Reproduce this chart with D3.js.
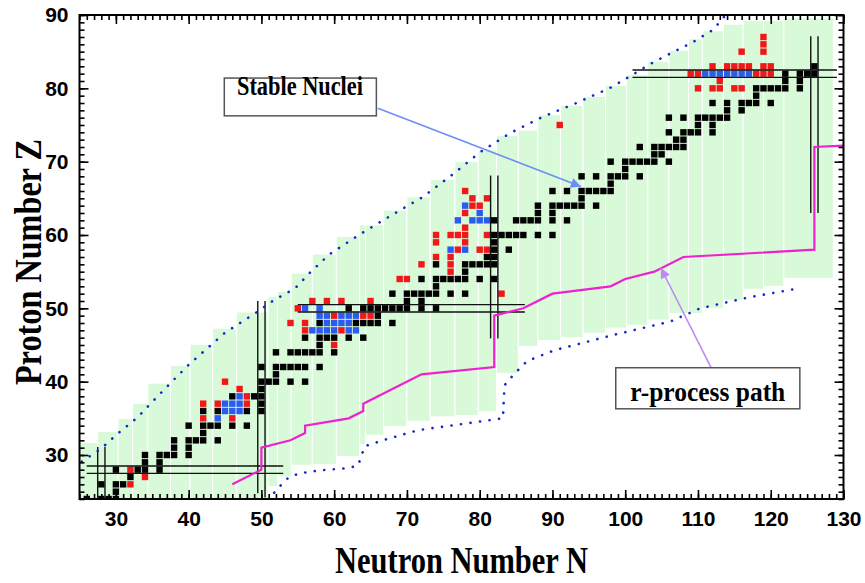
<!DOCTYPE html>
<html>
<head>
<meta charset="utf-8">
<script src="https://cdn.jsdelivr.net/npm/d3@7"></script>
<style>
  body { margin: 0; background: #fff; }
  .tick text { font-family: "Liberation Sans", Arial, sans-serif; font-weight: bold; font-size: 21px; fill: #000; }
  .tick line { stroke: #000; stroke-width: 1.6; }
  .serif { font-family: "Liberation Serif", "Times New Roman", serif; font-weight: bold; fill: #000; }
</style>
</head>
<body>
<script>
// ============ Data ============
var nTicks = [30, 40, 50, 60, 70, 80, 90, 100, 110, 120, 130];
var zTicks = [30, 40, 50, 60, 70, 80, 90];

// stable nuclei rows: [Z, [N, ...]]
var blackRows = [
  [24, [26, 28, 29, 30]], [25, [30]], [26, [28, 30, 31]], [27, [32]],
  [28, [30, 33, 34, 36]], [29, [34, 36]], [30, [34, 36, 37, 38, 40]], [31, [38, 40]],
  [32, [38, 40, 41, 42, 44]], [33, [42]], [34, [40, 42, 43, 44, 46, 48]],
  [36, [42, 44, 48, 50]], [37, [50]], [38, [46, 49, 50]], [39, [50]],
  [40, [50, 51, 52, 54, 56]], [41, [52]], [42, [50, 52, 53, 54, 55, 56, 58]],
  [44, [52, 54, 55, 56, 57, 58, 60]], [45, [58]], [46, [56, 58, 59, 60, 62, 64]],
  [48, [58, 63, 64, 65, 66, 68]], [49, [66]], [50, [62, 64, 65, 66, 67, 68, 69, 70, 72, 74]],
  [51, [70, 72]], [52, [68, 70, 71, 72, 73, 74, 76, 78]], [53, [74]],
  [54, [72, 74, 75, 76, 77, 78, 80, 82]], [55, [78]], [56, [74, 78, 79, 80, 81, 82]],
  [57, [81, 82]], [58, [82, 84]], [59, [82]], [60, [82, 83, 84, 85, 86, 88, 90]],
  [62, [82, 85, 86, 87, 88, 90, 92]], [63, [88, 90]], [64, [88, 90, 91, 92, 93, 94, 96]],
  [65, [94]], [66, [90, 92, 94, 95, 96, 97, 98]], [67, [98]], [68, [94, 96, 98, 99, 100, 102]],
  [69, [100]], [70, [98, 100, 101, 102, 103, 104, 106]], [71, [104, 105]],
  [72, [102, 104, 105, 106, 107, 108]], [73, [107, 108]], [74, [106, 108, 109, 110, 112]],
  [75, [110, 112]], [76, [106, 108, 110, 111, 112, 113, 114]], [77, [114, 116]],
  [78, [112, 114, 116, 117, 118, 120]], [79, [118]], [80, [118, 119, 120, 121, 122, 124]],
  [81, [122, 124]], [82, [122, 124, 125, 126]], [83, [126]]
];
var redRows = [
  [26, [32]], [27, [34]], [28, [32]], [35, [42, 46]], [37, [42, 44, 48]], [38, [48]],
  [39, [47]], [40, [45]], [45, [60]], [47, [56, 61]], [48, [54, 56]], [49, [60, 64, 65]],
  [50, [55]], [51, [57, 59, 61, 65]], [52, [83]], [54, [69, 70]], [55, [76]], [56, [72, 76]],
  [57, [74, 76]], [58, [77, 80, 81]], [59, [74, 78]], [60, [74, 76, 77, 78, 81]], [61, [78]],
  [63, [78]], [64, [79, 80]], [65, [79, 81]], [66, [78]], [75, [91]],
  [80, [110, 112, 113, 115, 116]], [81, [113]], [82, [109, 110, 118, 119, 120]],
  [83, [112, 114, 115, 116, 117, 119, 120]], [85, [116, 119]], [86, [119]], [87, [119]]
];
var blueRows = [
  [35, [44]], [36, [45, 46, 47]], [37, [45, 46, 47]], [38, [47]],
  [47, [57, 58, 59, 60, 62, 63]], [48, [59, 60, 61, 62]], [49, [58, 59, 61, 62, 63]],
  [50, [56, 58]], [58, [76, 78]], [62, [77, 79, 80, 81]], [63, [80]], [64, [78]],
  [82, [111, 112, 113, 114, 115, 116, 117]]
];

// green band: column edges (N) with top / bottom Z of each column
var bandEdges = [25, 27.5, 30.3, 32.3, 34.4, 37.5, 40.2, 43.3, 46.6, 50.9, 52.2, 54.1, 57.0, 60.3,
  63.5, 64.3, 66.8, 70.0, 73.2, 76.6, 79.8, 82.3, 85.3, 88.0, 91.1, 94.2, 97.3, 100.2, 103.1,
  106.0, 108.7, 110.6, 113.5, 116.2, 119.0, 121.8, 128.6];
var bandTop = [31.7, 33.2, 35.0, 37.05, 39.8, 42.2, 45.1, 47.3, 49.5, 51.6, 52.3, 54.8, 57.4, 59.8,
  61.4, 61.4, 63.4, 65.2, 67.6, 70.0, 71.6, 73.6, 74.3, 76.4, 77.7, 78.9, 80.4, 81.85, 83.7,
  85.2, 86.75, 87.85, 88.75, 89.25, 89.25, 89.6];
var bandBottom = [24, 24, 24, 24, 24, 24, 24, 24, 24, 25.7, 27.0, 28.6, 28.7, 29.8,
  31.4, 32.7, 33.9, 34.6, 35.2, 35.4, 35.9, 41.1, 44.8, 45.6, 46.0, 46.6, 47.3, 47.7, 48.4,
  49.3, 49.3, 50.0, 51.1, 52.6, 53.0, 54.1];

// dotted limits
var upperN = [25.3, 27.9, 30.35, 32.95, 35.2, 37.6, 40.0, 44.9, 49.1, 51.7, 54.6, 56.8, 59.4, 63.7,
  67.9, 72.2, 76.2, 80.2, 84.2, 88.75, 93.3, 97.8, 100.6, 103.4, 106.3, 109.3, 112.1, 113.8];
var upperZ = [29.1, 30.8, 33.0, 35.1, 37.45, 39.9, 42.3, 46.6, 49.3, 51.1, 52.7, 55.0, 57.4, 60.2,
  62.7, 65.2, 68.2, 71.4, 73.9, 76.15, 78.0, 80.0, 81.6, 83.3, 84.8, 86.3, 88.0, 90];
var lowerN = [51.0, 52.0, 53.8, 55.3, 58.0, 61.9, 63.3, 64.2, 67.0, 71.6, 76.0, 83.2, 83.4, 84.7,
  86.5, 90.3, 98.5, 106.2, 110.3, 117.0, 123.7];
var lowerZ = [23.8, 25.2, 27.0, 27.5, 27.9, 28.2, 28.6, 31.2, 32.1, 33.4, 34.0, 35.0, 39.5, 41.0,
  42.8, 44.3, 46.4, 48.2, 50.0, 51.5, 52.7];

// r-process path
var pathN = [46, 50, 50, 54, 56, 56, 62, 64, 64, 72, 82, 82, 86, 90, 98, 100, 104, 108, 126, 126, 130];
var pathZ = [26, 28, 31, 32, 33, 34, 35, 36, 37, 41, 42, 49, 50, 52, 53, 54, 55, 57, 58, 72, 72.2];

// magic number double lines [N1, Z1, N2, Z2]
var magicLines = [
  [26, 27.5, 53, 27.5], [26, 28.5, 53, 28.5],
  [27.5, 24, 27.5, 31.1], [28.5, 24, 28.5, 31.1],
  [49.5, 24.8, 49.5, 51], [50.5, 24.2, 50.5, 51],
  [55, 49.5, 86.2, 49.5], [55, 50.5, 86.2, 50.5],
  [81.5, 45.9, 81.5, 68.1], [82.5, 45.9, 82.5, 68.1],
  [101, 81.5, 129.1, 81.5], [101, 82.5, 129.1, 82.5],
  [125.5, 63, 125.5, 87.1], [126.5, 63, 126.5, 87.1]
];

// ============ Layout ============
var svgWidth = 865;
var svgHeight = 583;
var margin = { top: 15, right: 21.5, bottom: 84, left: 79.5 };
var width = svgWidth - margin.left - margin.right;
var height = svgHeight - margin.top - margin.bottom;

var svg = d3.select("body").append("svg")
  .attr("width", svgWidth)
  .attr("height", svgHeight);

var chartGroup = svg.append("g")
  .attr("transform", `translate(${margin.left}, ${margin.top})`);

var xScale = d3.scaleLinear().domain([25, 130]).range([0, width]);
var yScale = d3.scaleLinear().domain([24, 90]).range([height, 0]);

chartGroup.append("clipPath").attr("id", "plotClip")
  .append("rect").attr("width", width).attr("height", height);

var plot = chartGroup.append("g").attr("clip-path", "url(#plotClip)");

// green columns
var bandData = bandTop.map((t, i) => ({ n0: bandEdges[i], n1: bandEdges[i + 1], top: t, bottom: bandBottom[i] }));
plot.selectAll("rect.band")
  .data(bandData)
  .enter()
  .append("rect")
  .attr("class", "band")
  .attr("x", d => xScale(d.n0))
  .attr("width", d => xScale(d.n1) - xScale(d.n0))
  .attr("y", d => yScale(d.top))
  .attr("height", d => yScale(d.bottom) - yScale(d.top))
  .attr("fill", "#d8fad8")
  .attr("stroke", "#fff")
  .attr("stroke-width", 1);

// nuclei squares
function flatten(rows, color) {
  var out = [];
  rows.forEach(function(r) {
    r[1].forEach(function(n) { out.push({ n: n, z: r[0], color: color }); });
  });
  return out;
}
var nuclei = flatten(blackRows, "#000000")
  .concat(flatten(redRows, "#f01818"))
  .concat(flatten(blueRows, "#2b5cf0"));

var sq = 6.4;
plot.selectAll("rect.nuc")
  .data(nuclei)
  .enter()
  .append("rect")
  .attr("class", "nuc")
  .attr("x", d => xScale(d.n) - sq / 2)
  .attr("y", d => yScale(d.z) - sq / 2)
  .attr("width", sq)
  .attr("height", sq)
  .attr("fill", d => d.color);

// magic lines
plot.selectAll("line.magic")
  .data(magicLines)
  .enter()
  .append("line")
  .attr("x1", d => xScale(d[0]))
  .attr("y1", d => yScale(d[1]))
  .attr("x2", d => xScale(d[2]))
  .attr("y2", d => yScale(d[3]))
  .attr("stroke", "#111")
  .attr("stroke-width", 1.4);

// dotted limits
var line = d3.line().x(d => xScale(d[0])).y(d => yScale(d[1]));
[d3.zip(upperN, upperZ), d3.zip(lowerN, lowerZ)].forEach(function(pts) {
  plot.append("path")
    .attr("d", line(pts))
    .attr("fill", "none")
    .attr("stroke", "#1228c8")
    .attr("stroke-width", 2.6)
    .attr("stroke-linecap", "round")
    .attr("stroke-dasharray", "0.1 9.5");
});

// r-process path
plot.append("path")
  .attr("d", line(d3.zip(pathN, pathZ)))
  .attr("fill", "none")
  .attr("stroke", "#f020d0")
  .attr("stroke-width", 2.2);

// ============ Annotations ============
var defs = svg.append("defs");
function addHead(id, color) {
  defs.append("marker")
    .attr("id", id)
    .attr("viewBox", "0 0 10 10")
    .attr("refX", 10).attr("refY", 5)
    .attr("markerUnits", "userSpaceOnUse")
    .attr("markerWidth", 14).attr("markerHeight", 10)
    .attr("orient", "auto")
    .append("path").attr("d", "M0,0 L10,5 L0,10 z").attr("fill", color);
}
addHead("headBlue", "#6e8ef6");
addHead("headViolet", "#c088f4");

var notes = [
  { text: "Stable Nuclei", box: [44.9, 81.4, 65.8, 76.25], tx: 55.3, ty: 79.1, len: 126,
    arrow: [66.0, 77.3, 93.9, 66.6], color: "#6e8ef6", head: "headBlue" },
  { text: "r-process path", box: [98.7, 41.9, 124.0, 36.3], tx: 111.35, ty: 37.3, len: 155,
    arrow: [111.8, 41.9, 104.9, 55.5], color: "#c088f4", head: "headViolet" }
];

notes.forEach(function(a) {
  chartGroup.append("line")
    .attr("x1", xScale(a.arrow[0])).attr("y1", yScale(a.arrow[1]))
    .attr("x2", xScale(a.arrow[2])).attr("y2", yScale(a.arrow[3]))
    .attr("stroke", a.color)
    .attr("stroke-width", 1.6)
    .attr("marker-end", `url(#${a.head})`);
  chartGroup.append("rect")
    .attr("x", xScale(a.box[0])).attr("y", yScale(a.box[1]))
    .attr("width", xScale(a.box[2]) - xScale(a.box[0]))
    .attr("height", yScale(a.box[3]) - yScale(a.box[1]))
    .attr("fill", "#fff")
    .attr("stroke", "#555")
    .attr("stroke-width", 1.5);
  chartGroup.append("text")
    .attr("class", "serif")
    .attr("x", xScale(a.tx)).attr("y", yScale(a.ty))
    .attr("text-anchor", "middle")
    .attr("font-size", "28px")
    .attr("textLength", a.len)
    .attr("lengthAdjust", "spacingAndGlyphs")
    .text(a.text);
});

// ============ Axes ============
function styleAxis(g) {
  g.select(".domain").remove();
}
var minorN = d3.range(25, 131);
var minorZ = d3.range(24, 91);

chartGroup.append("g").attr("transform", `translate(0, ${height})`)
  .call(d3.axisBottom(xScale).tickValues(minorN).tickSize(-5).tickFormat("")).call(styleAxis);
chartGroup.append("g").attr("transform", `translate(0, ${height})`)
  .call(d3.axisBottom(xScale).tickValues(nTicks).tickSize(-9).tickPadding(12)).call(styleAxis);
chartGroup.append("g")
  .call(d3.axisTop(xScale).tickValues(minorN).tickSize(-5).tickFormat("")).call(styleAxis);
chartGroup.append("g")
  .call(d3.axisTop(xScale).tickValues(nTicks).tickSize(-9).tickFormat("")).call(styleAxis);

chartGroup.append("g")
  .call(d3.axisLeft(yScale).tickValues(minorZ).tickSize(-5).tickFormat("")).call(styleAxis);
chartGroup.append("g")
  .call(d3.axisLeft(yScale).tickValues(zTicks).tickSize(-9).tickPadding(11)).call(styleAxis);
chartGroup.append("g").attr("transform", `translate(${width}, 0)`)
  .call(d3.axisRight(yScale).tickValues(minorZ).tickSize(-5).tickFormat("")).call(styleAxis);
chartGroup.append("g").attr("transform", `translate(${width}, 0)`)
  .call(d3.axisRight(yScale).tickValues(zTicks).tickSize(-9).tickFormat("")).call(styleAxis);

// frame
chartGroup.append("rect")
  .attr("width", width)
  .attr("height", height)
  .attr("fill", "none")
  .attr("stroke", "#000")
  .attr("stroke-width", 2);

// axis titles
chartGroup.append("text")
  .attr("class", "serif")
  .attr("x", width / 2)
  .attr("y", height + 74)
  .attr("text-anchor", "middle")
  .attr("font-size", "37px")
  .attr("textLength", 253)
  .attr("lengthAdjust", "spacingAndGlyphs")
  .text("Neutron Number N");

chartGroup.append("text")
  .attr("class", "serif")
  .attr("transform", "rotate(-90)")
  .attr("x", -(height / 2) - 5)
  .attr("y", -39)
  .attr("text-anchor", "middle")
  .attr("font-size", "37px")
  .attr("textLength", 246)
  .attr("lengthAdjust", "spacingAndGlyphs")
  .text("Proton Number Z");
</script>
</body>
</html>
